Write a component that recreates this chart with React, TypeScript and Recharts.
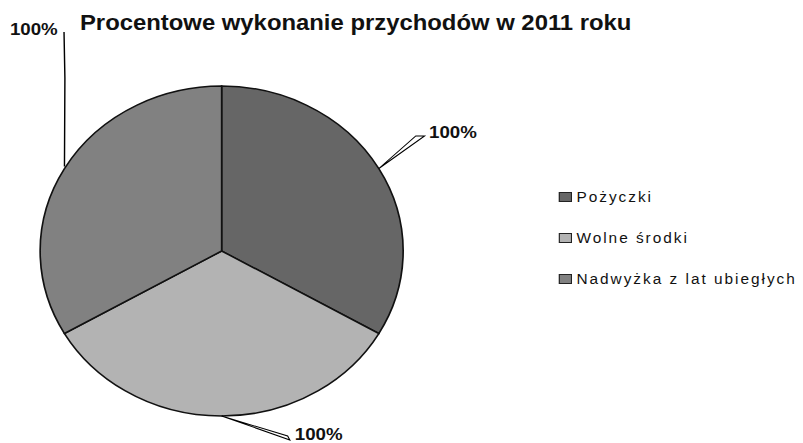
import { PieChart, Pie, Cell, Legend } from "recharts";

const categories = ["Pożyczki", "Wolne środki", "Nadwyżka z lat ubiegłych"];
const values = [100, 100, 100];
const colors = ["#666666", "#b3b3b3", "#818181"];

const data = categories.map((name, i) => ({ name, value: values[i] }));

const SX = 1.1;
const RADIAN = Math.PI / 180;

// where each dragged label sits (chart coords, before the horizontal stretch)
const labelSpots = [
  { tx: 390, ty: 138, ex: 378, ey: 136, kind: "wedge" },
  { tx: 268, ty: 440, ex: 263.5, ey: 439, kind: "wedge" },
  { tx: 9, ty: 35, ex: 58.2, ey: 32, kind: "line" },
];

const renderLabel = (props: any) => {
  const { cx, cy, midAngle, outerRadius, index, value } = props;
  const px = cx + outerRadius * Math.cos(-midAngle * RADIAN);
  const py = cy + outerRadius * Math.sin(-midAngle * RADIAN);
  const s = labelSpots[index];
  let leader;
  if (s.kind === "wedge") {
    const pts =
      index === 0
        ? `${px},${py} ${s.ex},${s.ey} ${s.ex + 8},${s.ey}`
        : `${px},${py} ${s.ex - 2},${s.ey - 3} ${s.ex},${s.ey + 1}`;
    leader = <polygon points={pts} fill="#fff" stroke="#000" strokeWidth={1} />;
  } else {
    leader = (
      <polyline
        points={`${px},${py - 2} ${s.ex + 0.8},${78} ${s.ex},${s.ey}`}
        fill="none"
        stroke="#000"
        strokeWidth={1.3}
      />
    );
  }
  return (
    <g key={`lbl-${index}`}>
      {leader}
      <text x={s.tx} y={s.ty} fontSize={17} fontWeight="bold" fill="#111">
        {`${value}%`}
      </text>
    </g>
  );
};

const renderLegend = (props: any) => {
  const { payload } = props;
  return (
    <div>
      {(payload || []).map((entry: any, i: number) => (
        <div
          key={`leg-${i}`}
          style={{ height: 41, display: "flex", alignItems: "center", whiteSpace: "nowrap" }}
        >
          <span
            style={{
              display: "inline-block",
              width: 10,
              height: 8,
              background: colors[i],
              border: "1px solid #222",
              marginRight: 4,
            }}
          />
          <span style={{ fontSize: 14, letterSpacing: 1.8, color: "#111" }}>
            {categories[i]}
          </span>
        </div>
      ))}
    </div>
  );
};

export default function App() {
  return (
    <div
      style={{
        position: "absolute",
        left: 0,
        top: 0,
        width: 803,
        height: 443,
        overflow: "hidden",
        background: "#fff",
        fontFamily: "'Liberation Sans', Arial, sans-serif",
      }}
    >
      <div style={{ width: 730, height: 443, transform: `scaleX(${SX})`, transformOrigin: "0 0" }}>
        <PieChart width={730} height={443} margin={{ top: 0, right: 0, bottom: 0, left: 0 }}>
          <text x={72.7} y={30} fontSize={21.7} fontWeight="bold" fill="#111">
            Procentowe wykonanie przychodów w 2011 roku
          </text>
          <Pie
            data={data}
            dataKey="value"
            nameKey="name"
            cx={201.5}
            cy={251}
            outerRadius={165}
            startAngle={90}
            endAngle={-270}
            stroke="#111"
            strokeWidth={1.5}
            label={renderLabel}
            labelLine={false}
            isAnimationActive={false}
          >
            {data.map((entry, index) => (
              <Cell key={`cell-${index}`} fill={colors[index]} />
            ))}
          </Pie>
          <Legend
            layout="vertical"
            verticalAlign="top"
            align="right"
            content={renderLegend}
            wrapperStyle={{ left: 508, top: 176, width: 220 }}
          />
        </PieChart>
      </div>
    </div>
  );
}
